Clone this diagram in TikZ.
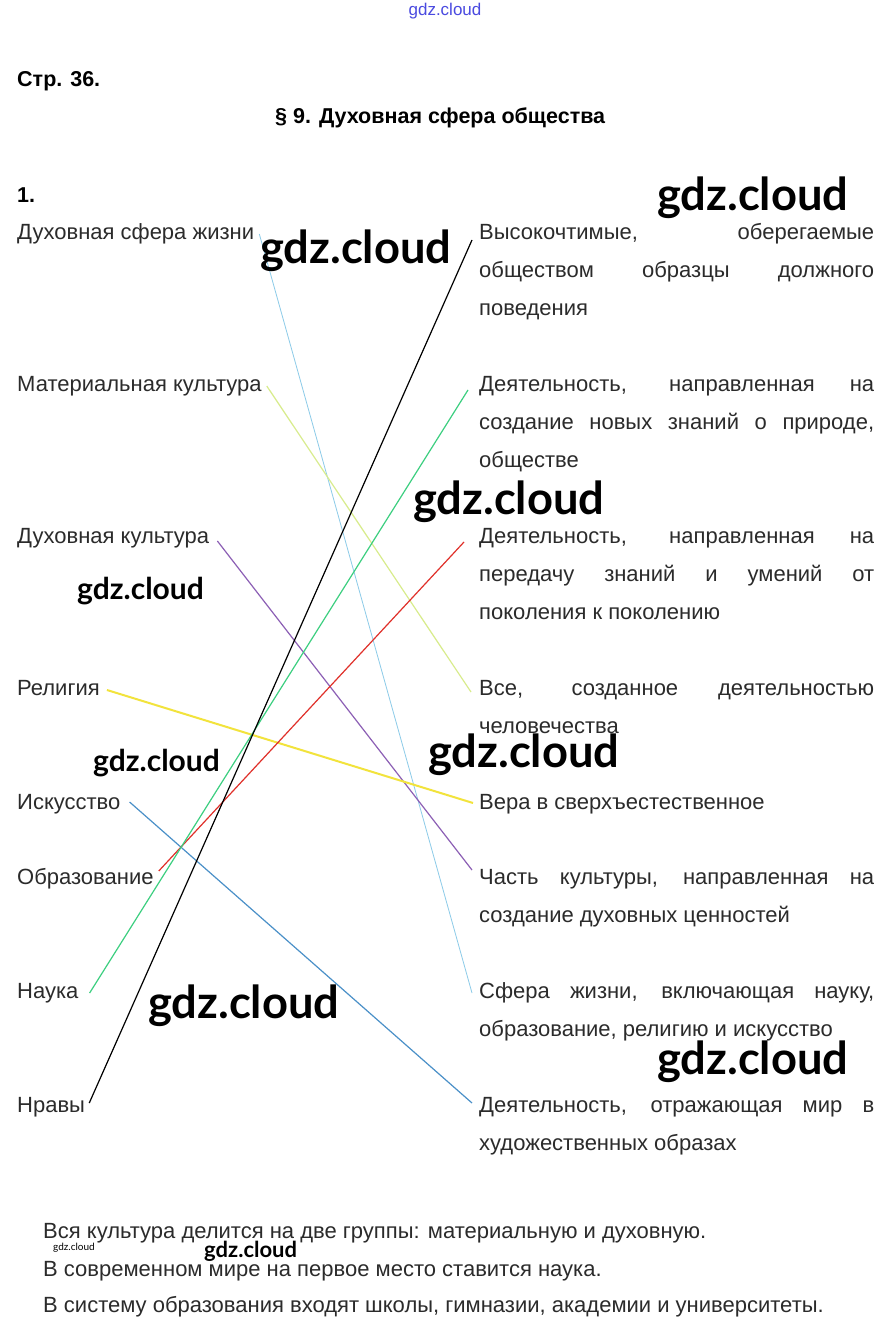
\documentclass[tikz,border=0pt]{standalone}
\usepackage{fontspec}
\setmainfont{Liberation Sans}
\newfontfamily\wmfont{Lato}
\definecolor{txtgray}{HTML}{2B2B2B}
\definecolor{lnsky}{HTML}{8CCBE8}
\definecolor{lnlime}{HTML}{D8EC8C}
\definecolor{lnpurple}{HTML}{8C5FB5}
\definecolor{lnyellow}{HTML}{F2E33C}
\definecolor{lnsteel}{HTML}{4A90C8}
\definecolor{lnred}{HTML}{E0302A}
\definecolor{lngreen}{HTML}{3CCF80}
\definecolor{wmblue}{HTML}{4A4AE0}
\tikzset{
  term/.style={anchor=base west, inner sep=0pt, text=txtgray, font=\fontsize{22}{38}\selectfont},
  defn/.style={term, text width=395pt, align=justify},
  head/.style={anchor=base west, inner sep=0pt, font=\bfseries\fontsize{21.5}{21.5}\selectfont},
  note/.style={anchor=base west, inner sep=0pt, text=txtgray, font=\fontsize{22}{24}\selectfont},
  wmbig/.style={anchor=base west, inner sep=0pt, font=\wmfont\bfseries\fontsize{45.3}{46}\selectfont},
  wmmid/.style={anchor=base west, inner sep=0pt, font=\wmfont\bfseries\fontsize{30}{30}\selectfont},
  conn/.style={line width=1.2pt},
}
\begin{document}
\begin{tikzpicture}[x=1pt,y=-1pt]
\fill[white] (0,0) rectangle (890,1335);
\useasboundingbox (0,0) rectangle (890,1335);

% --- HEADER ---
\node[inner sep=0pt, text=wmblue, font=\fontsize{17}{17}\selectfont] (site) at (445,11) {gdz.cloud};
\node[head] (page) at (17,87) {Стр. 36.};
\node[head] (title) at (275,124) {§ 9. Духовная сфера общества};
\node[head] (task) at (17,202) {1.};

% --- LEFT TERMS ---
\node[term] (dsz) at (17,239) {Духовная сфера жизни};
\node[term] (mk)  at (17,391) {Материальная культура};
\node[term] (dk)  at (17,543) {Духовная культура};
\node[term] (rel) at (17,695) {Религия};
\node[term] (isk) at (17,809) {Искусство};
\node[term] (obr) at (17,884) {Образование};
\node[term] (nau) at (17,998) {Наука};
\node[term] (nrv) at (17,1112) {Нравы};

% --- RIGHT DEFINITIONS ---
\node[defn] (d1) at (479,239) {Высокочтимые, оберегаемые\linebreak обществом образцы должного\linebreak поведения};
\node[defn] (d2) at (479,391) {Деятельность, направленная на\linebreak создание новых знаний о природе,\linebreak обществе};
\node[defn] (d3) at (479,543) {Деятельность, направленная на\linebreak передачу знаний и умений от\linebreak поколения к поколению};
\node[defn] (d4) at (479,695) {Все, созданное деятельностью\linebreak человечества};
\node[defn] (d5) at (479,809) {Вера в сверхъестественное};
\node[defn] (d6) at (479,884) {Часть культуры, направленная на\linebreak создание духовных ценностей};
\node[defn] (d7) at (479,998) {Сфера жизни, включающая науку,\linebreak образование, религию и искусство};
\node[defn] (d8) at (479,1112) {Деятельность, отражающая мир в\linebreak художественных образах};

% --- MATCHING LINES ---
\draw[lnsky, line width=0.8pt] ([shift={(5,-5)}]dsz.base east) -- ([shift={(-7,-5)}]d7.base west);
\draw[lnlime, conn] ([shift={(5,-5)}]mk.base east) -- ([shift={(-8,-3)}]d4.base west);
\draw[lnpurple, conn] ([shift={(8,-2)}]dk.base east) -- ([shift={(-7,-14)}]d6.base west);
\draw[lnyellow, line width=2pt] ([shift={(7,-5)}]rel.base east) -- ([shift={(-6,-6)}]d5.base west);
\draw[lnsteel, conn] ([shift={(9,-7)}]isk.base east) -- ([shift={(-7,-9)}]d8.base west);
\draw[lnred, conn] ([shift={(5,-13)}]obr.base east) -- ([shift={(-15,-1)}]d3.base west);
\draw[lngreen, conn] ([shift={(11,-5)}]nau.base east) -- ([shift={(-11,-1)}]d2.base west);
\draw[black, conn] ([shift={(4,-9)}]nrv.base east) -- ([shift={(-7,1)}]d1.base west);

% --- SUMMARY ---
\node[note] (s1) at (43,1238) {Вся культура делится на две группы: материальную и духовную.};
\node[note] (s2) at (43,1276) {В современном мире на первое место ставится наука.};
\node[note] (s3) at (43,1312) {В систему образования входят школы, гимназии, академии и университеты.};

% --- WATERMARKS ---
\node[wmbig] (w1) at (657,210) {gdz.cloud};
\node[wmbig] (w2) at (260,263) {gdz.cloud};
\node[wmbig] (w3) at (413,514) {gdz.cloud};
\node[wmmid] (w4) at (77,599) {gdz.cloud};
\node[wmmid] (w5) at (93,771) {gdz.cloud};
\node[wmbig] (w6) at (428,767) {gdz.cloud};
\node[wmbig] (w7) at (148,1018) {gdz.cloud};
\node[wmbig] (w8) at (657,1074) {gdz.cloud};
\node[anchor=base west, inner sep=0pt, font=\wmfont\fontsize{10}{10}\selectfont] (w9) at (53,1250) {gdz.cloud};
\node[anchor=base west, inner sep=0pt, font=\wmfont\bfseries\fontsize{22}{22}\selectfont] (w10) at (204,1257) {gdz.cloud};
\end{tikzpicture}
\end{document}
